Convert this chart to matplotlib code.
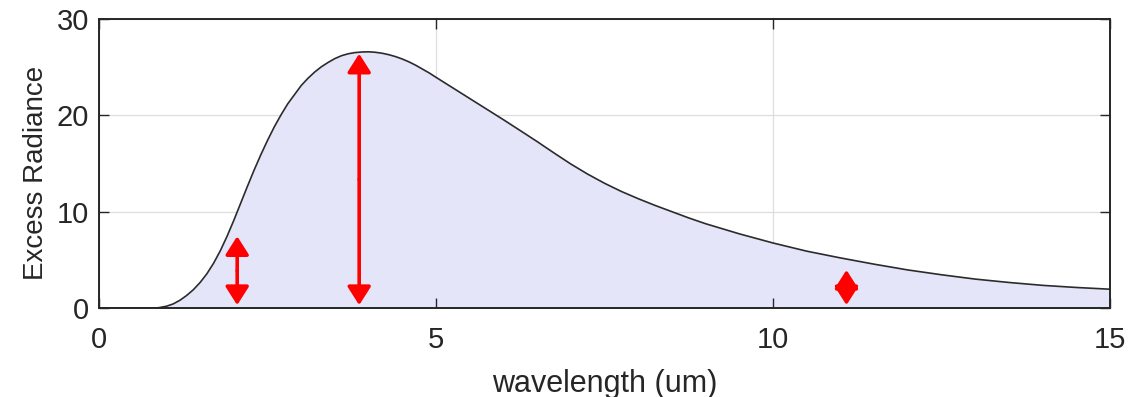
import numpy as np
import matplotlib
matplotlib.use("Agg")
import matplotlib.pyplot as plt

plt.rcParams['font.family'] = ['Liberation Sans', 'DejaVu Sans']

# curve (wavelength in um, excess radiance)
wavelength = [0.0, 0.85, 0.9, 1.0, 1.1, 1.2, 1.3, 1.4, 1.5, 1.6, 1.7, 1.8, 1.9,
              2.0, 2.1, 2.2, 2.3, 2.4, 2.5, 2.6, 2.7, 2.8, 2.9, 3.0, 3.1, 3.2,
              3.3, 3.4, 3.5, 3.6, 3.7, 3.8, 3.9, 4.0, 4.1, 4.2, 4.3, 4.4, 4.5,
              4.6, 4.7, 4.8, 4.9, 5.0, 5.25, 5.5, 5.75, 6.0, 6.25, 6.5, 6.75,
              7.0, 7.25, 7.5, 7.75, 8.0, 8.25, 8.5, 8.75, 9.0, 9.5, 10.0, 10.5,
              11.0, 11.5, 12.0, 12.5, 13.0, 13.5, 14.0, 14.5, 15.0]
radiance = [0.0, 0.0, 0.05, 0.18, 0.42, 0.8, 1.3, 1.9, 2.65, 3.55, 4.65, 5.95, 7.45,
            9.1, 10.85, 12.6, 14.3, 15.9, 17.4, 18.8, 20.05, 21.2, 22.15, 23.1, 23.85, 24.5,
            25.05, 25.5, 25.9, 26.2, 26.4, 26.52, 26.58, 26.6, 26.55, 26.45, 26.3, 26.1, 25.85,
            25.55, 25.2, 24.8, 24.4, 23.95, 22.85, 21.75, 20.65, 19.55, 18.42, 17.28, 16.1,
            14.95, 13.9, 12.95, 12.1, 11.35, 10.65, 10.0, 9.35, 8.75, 7.7, 6.75, 5.9,
            5.2, 4.55, 3.95, 3.45, 3.0, 2.65, 2.35, 2.13, 1.95]

# red double arrows
arrow_x = [2.05, 3.86, 11.09]
arrow_top = [7.45, 26.4, 3.95]
arrow_bottom = [0.3, 0.3, 0.3]

xticks = [0, 5, 10, 15]
yticks = [0, 10, 20, 30]

dark = '#262626'

fig = plt.figure(figsize=(11.33, 3.97), dpi=100)
ax = fig.add_axes([0.0874, 0.2242, 0.8923, 0.7278])

# grid drawn by hand so the filled area covers it
for xv in xticks:
    ax.axvline(xv, color='#dedede', lw=0.9, zorder=0.5)
for yv in yticks:
    ax.axhline(yv, color='#dedede', lw=0.9, zorder=0.5)

ax.fill_between(wavelength, 0, radiance, color='#e5e5fa', lw=0, zorder=1)
ax.plot(wavelength, radiance, color='#2b2b2b', lw=1.2, zorder=2,
        solid_joinstyle='round')

# each double arrow = two single arrows pointing out from the middle
head = dict(arrowstyle='-|>,head_length=0.66,head_width=0.42',
            mutation_scale=17, lw=2.6, color='red', shrinkA=0, shrinkB=0)
for x, top, bot in zip(arrow_x, arrow_top, arrow_bottom):
    mid = (top + bot) / 2
    ax.annotate('', xy=(x, top), xytext=(x, mid), arrowprops=head, zorder=3)
    ax.annotate('', xy=(x, bot), xytext=(x, mid), arrowprops=head, zorder=3)

ax.set_xlim(0, 15)
ax.set_ylim(0, 30)
ax.set_xticks(xticks)
ax.set_yticks(yticks)

for s in ax.spines.values():
    s.set_color(dark)
    s.set_linewidth(1.4)

ax.tick_params(axis='both', direction='in', length=7.5, width=1, colors=dark,
               labelsize=21, top=True, right=True)
ax.tick_params(axis='x', pad=13)
ax.tick_params(axis='y', pad=7)

ax.set_xlabel('wavelength (um)', fontsize=22, color=dark)
ax.set_ylabel('Excess Radiance', fontsize=20, color=dark)
ax.xaxis.set_label_coords(0.5, -0.211)
ax.yaxis.set_label_coords(-0.0495, 0.469)

fig.savefig('out.png', dpi=100)
